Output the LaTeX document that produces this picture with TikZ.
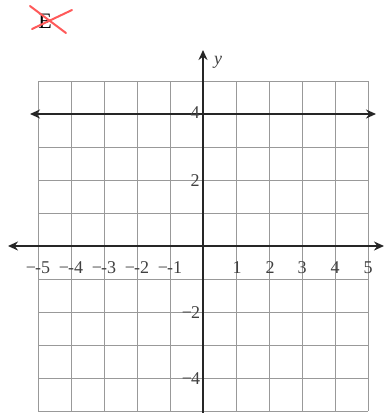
\documentclass[tikz,border=0pt]{standalone}
\usepackage{fontspec}
\setmainfont{Liberation Serif}
\usetikzlibrary{arrows.meta}
\begin{document}
\begin{tikzpicture}[x=1pt,y=-1pt,
  gridline/.style={draw=black!40,line width=0.8pt},
  axisline/.style={draw=black!85,line width=1.6pt,{Stealth[length=10pt,width=9pt]}-{Stealth[length=10pt,width=9pt]}},
  ticklab/.style={font=\fontsize{18}{18}\selectfont,text=black!75,inner sep=0pt},
  crossline/.style={draw=red!65!white,line width=2pt,line cap=round}]
\useasboundingbox (0,0) rectangle (385,413);
% grid
\foreach \i in {0,...,10} {
  \draw[gridline] (38+33*\i,81) -- (38+33*\i,411);
  \draw[gridline] (38,81+33*\i) -- (368,81+33*\i);
}
% axes
\coordinate (xl) at (8,246);
\coordinate (xr) at (384,246);
\coordinate (yt) at (203,50);
\coordinate (yb) at (203,413);
\draw[axisline] (xl) -- (xr);
\draw[draw=black!85,line width=1.6pt,-{Stealth[length=10pt,width=9pt]}] (yb) -- (yt);
% horizontal line y=4
\coordinate (ll) at (30,114);
\coordinate (lr) at (376,114);
\draw[axisline] (ll) -- (lr);
% x labels
\foreach \v/\px in {-5/38,-4/71,-3/104,-2/137,-1/170} {
  \node[ticklab] (xlab\px) at (\px,268) {−\hspace{-1pt}\v};
}
\node[ticklab] (xl1) at (237,268) {1};
\node[ticklab] (xl2) at (270,268) {2};
\node[ticklab] (xl3) at (302,268) {3};
\node[ticklab] (xl4) at (335,268) {4};
\node[ticklab] (xl5) at (368,268) {5};
% y labels
\node[ticklab] (yl4) at (195,113) {4};
\node[ticklab] (yl2) at (195,181) {2};
\node[ticklab] (ylm2) at (191,313) {−\hspace{-1pt}2};
\node[ticklab] (ylm4) at (191,379) {−\hspace{-1pt}4};
\node[ticklab,font=\fontsize{18}{18}\selectfont\itshape] (ylab) at (218,62) {y};
% crossed-out E
\node[ticklab,font=\fontsize{22}{22}\selectfont,text=black] (E) at (45,21) {E};
\draw[crossline] (30,6) -- (66,33);
\draw[crossline] (32,29) -- (72,10);
\end{tikzpicture}
\end{document}
